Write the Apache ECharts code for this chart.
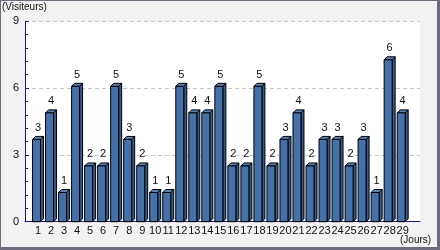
<!DOCTYPE html>
<html><head><meta charset="utf-8">
<script src="https://cdn.jsdelivr.net/npm/echarts@6/dist/echarts.min.js"></script>
<style>html,body{margin:0;padding:0;background:#f2f2f2}#c{width:440px;height:250px}</style>
</head><body><div id="c"></div>
<script>
const days = ['1','2','3','4','5','6','7','8','9','10','11','12','13','14','15','16','17','18','19','20','21','22','23','24','25','26','27','28','29'];
const visits = [3,4,1,5,2,2,5,3,2,1,1,5,4,4,5,2,2,5,2,3,4,2,3,3,2,3,1,6,4];
const yTicks = [0,3,6,9];
const yName = '(Visiteurs)';
const xName = '(Jours)';

const F = 'Liberation Sans';
const chart = echarts.init(document.getElementById('c'), null, {renderer:'canvas'});
const data = days.map((d,i)=>[i+1, visits[i]]);
chart.setOption({
  backgroundColor:'#f2f2f2',
  animation:false,
  grid:{left:25,right:20,top:21.3,bottom:28.3,show:true,backgroundColor:'#ffffff',borderWidth:0},
  xAxis:{type:'value',min:0,max:30.33,interval:1,
    axisLine:{show:true,lineStyle:{color:'#1a1a80',width:1}},
    axisTick:{show:false},splitLine:{show:false},
    axisLabel:{margin:4,fontFamily:F,fontSize:11,color:'#111',showMaxLabel:false,showMinLabel:false,
      formatter:v=>(v>=1&&v<=days.length)?days[v-1]:''}},
  yAxis:[{type:'value',min:yTicks[0],max:yTicks[yTicks.length-1],interval:yTicks[1]-yTicks[0],
    axisLine:{show:true,lineStyle:{color:'#1a1a80',width:1}},
    axisTick:{show:true,inside:true,length:4,lineStyle:{color:'#1a1a80'}},
    minorTick:{show:true,splitNumber:5,length:3,lineStyle:{color:'#1a1a80'}},
    splitLine:{show:true,lineStyle:{color:'#c8c8c8',type:[4,3],width:1}},
    axisLabel:{margin:6,fontFamily:F,fontSize:11,color:'#111'}},
   {type:'value',min:-0.1,max:7.45,show:false,splitLine:{show:false}}],
  graphic:[
    {type:'rect',shape:{x:0,y:0,width:440,height:1},style:{fill:'#6d6d7d'},z:100},
    {type:'rect',shape:{x:0,y:0,width:1,height:250},style:{fill:'#6d6d7d'},z:100},
    {type:'rect',shape:{x:437,y:0,width:3,height:250},style:{fill:'#6d6d7d'},z:100},
    {type:'rect',shape:{x:0,y:247,width:440,height:3},style:{fill:'#6d6d7d'},z:100},
    {type:'text',left:2,top:2,style:{text:yName,font:'10px "Liberation Sans"',fill:'#111'}},
    {type:'text',left:400,top:235,style:{text:xName,font:'10px "Liberation Sans"',fill:'#111'}}
  ],
  series:[{
    type:'custom',xAxisIndex:0,yAxisIndex:1,data:data,clip:false,
    renderItem:(params,api)=>{
      const cs = params.coordSys;
      const p = api.coord([api.value(0), api.value(1)]);
      const cx = p[0], top = p[1], base = cs.y + cs.height;
      const w = 8, d = 3;
      const l = cx - (w+d)/2, r = l + w;
      return {type:'group',children:[
        {type:'polygon',shape:{points:[[r,top],[r+d,top-d],[r+d,base-d],[r,base]]},style:{fill:'#365a8c',stroke:'#000',lineWidth:1}},
        {type:'polygon',shape:{points:[[l,top],[l+d,top-d],[r+d,top-d],[r,top]]},style:{fill:'#5b80b8',stroke:'#000',lineWidth:1}},
        {type:'rect',shape:{x:l,y:top,width:w,height:base-top},style:{fill:'#4670a8',stroke:'#000',lineWidth:1}},
        {type:'text',style:{x:cx,y:top-d-3,text:String(api.value(1)),textAlign:'center',textVerticalAlign:'bottom',font:'11px "Liberation Sans"',fill:'#111'}}
      ]};
    }
  }]
});
</script></body></html>
